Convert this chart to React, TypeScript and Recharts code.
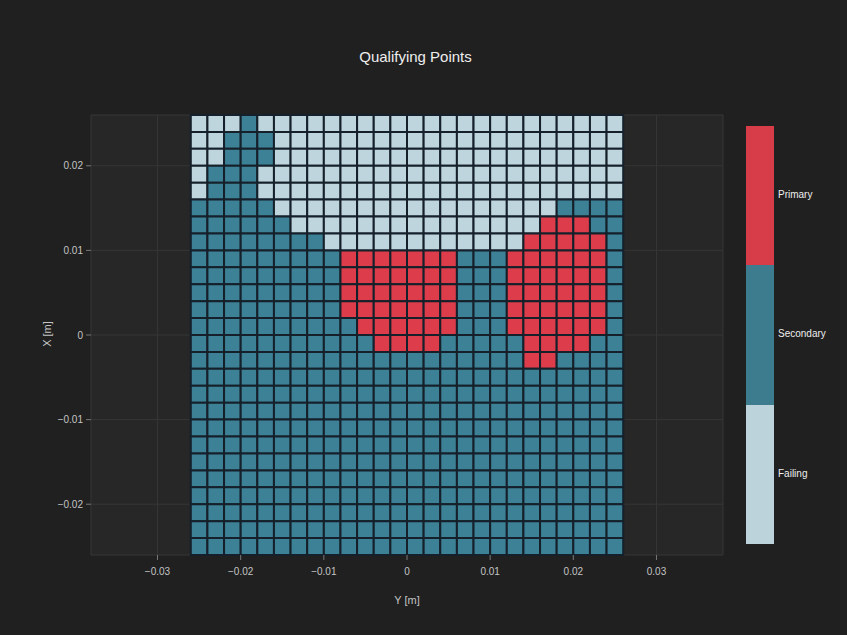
import React from "react";
import { ScatterChart, Scatter, XAxis, YAxis, CartesianGrid, ReferenceArea } from "recharts";

// Horizontal axis: Y [m] cell centres (left to right)
const yCenters = [
  -0.025, -0.023, -0.021, -0.019, -0.017, -0.015, -0.013, -0.011, -0.009, -0.007, -0.005, -0.003, -0.001,
  0.001, 0.003, 0.005, 0.007, 0.009, 0.011, 0.013, 0.015, 0.017, 0.019, 0.021, 0.023, 0.025,
];
// Vertical axis: X [m] cell centres (top to bottom)
const xCenters = [
  0.025, 0.023, 0.021, 0.019, 0.017, 0.015, 0.013, 0.011, 0.009, 0.007, 0.005, 0.003, 0.001,
  -0.001, -0.003, -0.005, -0.007, -0.009, -0.011, -0.013, -0.015, -0.017, -0.019, -0.021, -0.023, -0.025,
];
// 0 = Failing, 1 = Secondary, 2 = Primary (one string per row, top to bottom)
const statusRows = [
  "00010 00000 00000 00000 00000 0",
  "00111 00000 00000 00000 00000 0",
  "00111 00000 00000 00000 00000 0",
  "01110 00000 00000 00000 00000 0",
  "01110 00000 00000 00000 00000 0",
  "11111 00000 00000 00000 00111 1",
  "11111 10000 00000 00000 02221 1",
  "11111 11100 00000 00000 22222 1",
  "11111 11112 22222 21112 22222 1",
  "11111 11112 22222 21112 22222 1",
  "11111 11112 22222 21112 22222 1",
  "11111 11112 22222 21112 22222 1",
  "11111 11111 22222 21112 22222 1",
  "11111 11111 12222 11111 22221 1",
  "11111 11111 11111 11111 22111 1",
  "11111 11111 11111 11111 11111 1",
  "11111 11111 11111 11111 11111 1",
  "11111 11111 11111 11111 11111 1",
  "11111 11111 11111 11111 11111 1",
  "11111 11111 11111 11111 11111 1",
  "11111 11111 11111 11111 11111 1",
  "11111 11111 11111 11111 11111 1",
  "11111 11111 11111 11111 11111 1",
  "11111 11111 11111 11111 11111 1",
  "11111 11111 11111 11111 11111 1",
  "11111 11111 11111 11111 11111 1",
];
const statusNames = ["Failing", "Secondary", "Primary"];
const statusColors = ["#bed5de", "#3d8196", "#dd3d4b"];
const legendColors = ["#bcd3dc", "#3c7c8e", "#d73c49"];
const legendOrder = [2, 1, 0];
const xTicks = [-0.03, -0.02, -0.01, 0, 0.01, 0.02, 0.03];
const yTicks = [-0.02, -0.01, 0, 0.01, 0.02];
const cellHalf = 0.001;

const cells = statusRows.flatMap((row, ri) =>
  row
    .replace(/ /g, "")
    .split("")
    .map((ch, ci) => ({ y: yCenters[ci], x: xCenters[ri], status: Number(ch) }))
);

const FONT = "'Liberation Sans', Arial, sans-serif";

const fmt = (v: number) => {
  if (Math.abs(v) < 1e-9) return "0";
  return (v < 0 ? "\u2212" : "") + Math.abs(v).toFixed(2);
};

export default function App() {
  return (
    <div
      style={{
        position: "absolute",
        left: 0,
        top: 0,
        width: 847,
        height: 635,
        background: "#202020",
        fontFamily: FONT,
        overflow: "hidden",
      }}
    >
      <div
        style={{
          position: "absolute",
          left: 0,
          width: 847 - 16,
          top: 48,
          textAlign: "center",
          color: "#eeeeee",
          fontSize: 15,
          lineHeight: "18px",
        }}
      >
        Qualifying Points
      </div>
      <ScatterChart width={847} height={635} margin={{ top: 115, right: 124, bottom: 50, left: 31 }}>
        <CartesianGrid fill="#272727" stroke="#363636" strokeWidth={1} />
        <XAxis
          dataKey="y"
          type="number"
          domain={[-0.038, 0.038]}
          ticks={xTicks}
          tickFormatter={fmt}
          allowDataOverflow
          axisLine={false}
          tickLine={{ stroke: "#777777" }}
          tickSize={5}
          tickMargin={8}
          height={30}
          tick={{ fill: "#c4c4c4", fontSize: 10, fontFamily: FONT }}
        />
        <YAxis
          dataKey="x"
          type="number"
          domain={[-0.026, 0.026]}
          ticks={yTicks}
          tickFormatter={fmt}
          allowDataOverflow
          axisLine={false}
          tickLine={{ stroke: "#777777" }}
          tickSize={5}
          tickMargin={3}
          width={60}
          tick={{ fill: "#c4c4c4", fontSize: 10, fontFamily: FONT }}
        />
        {cells.map((c, i) => (
          <ReferenceArea
            key={i}
            x1={c.y - cellHalf}
            x2={c.y + cellHalf}
            y1={c.x - cellHalf}
            y2={c.x + cellHalf}
            fill={statusColors[c.status]}
            fillOpacity={1}
            stroke="#15202a"
            strokeWidth={2}
            ifOverflow="visible"
          />
        ))}
        <Scatter data={cells} isAnimationActive={false} shape={() => <g />} />
      </ScatterChart>
      <div
        style={{
          position: "absolute",
          left: 380,
          width: 54,
          top: 594,
          textAlign: "center",
          color: "#c4c4c4",
          fontSize: 11,
        }}
      >
        Y [m]
      </div>
      <div
        style={{
          position: "absolute",
          left: 20,
          top: 328,
          width: 54,
          textAlign: "center",
          color: "#c4c4c4",
          fontSize: 11,
          transform: "rotate(-90deg)",
        }}
      >
        X [m]
      </div>
      {legendOrder.map((s, i) => (
        <React.Fragment key={s}>
          <div
            style={{
              position: "absolute",
              left: 746,
              top: 126 + i * 139.3,
              width: 28,
              height: 139.3,
              background: legendColors[s],
            }}
          />
          <div
            style={{
              position: "absolute",
              left: 778,
              top: 126 + i * 139.3 + 63,
              color: "#eeeeee",
              fontSize: 10,
              lineHeight: "12px",
            }}
          >
            {statusNames[s]}
          </div>
        </React.Fragment>
      ))}
    </div>
  );
}
